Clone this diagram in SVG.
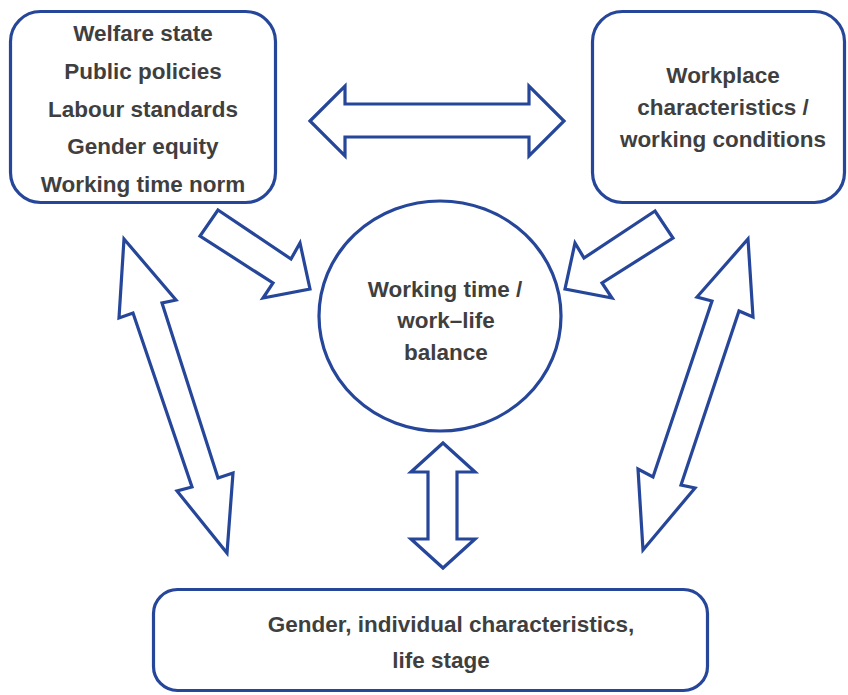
<svg xmlns="http://www.w3.org/2000/svg" width="848" height="695" viewBox="0 0 848 695">
<style>
.box{fill:#fff;stroke:#26469a;stroke-width:3.2}
.arr{fill:#fff;stroke:#26469a;stroke-width:3.2;stroke-linejoin:miter}
.t{font-family:"Liberation Sans",Arial,sans-serif;font-weight:700;font-size:22.5px;fill:#3f3f3f;text-anchor:middle}
</style>
<rect width="848" height="695" fill="#fff"/>
<g id="connectors">
<polygon class="arr" points="310,121 345,86 345,104 529,104 529,86 564,121 529,156 529,137 345,137 345,156"/>
<polygon class="arr" points="443,443 475,472 457,472 457,539 475,539 443,568 411,539 428,539 428,472 411,472"/>
<polygon class="arr" points="218,210 291,259 300,243 310,289 263,298 273,283 200,236"/>
<polygon class="arr" points="655,211 584,258 575,243 565,289 612,298 602,283 673,238"/>
<polygon class="arr" points="124,239 176,300 162,303 218,478 233,473 227,553 177,491 192,487 133,313 119,318"/>
<polygon class="arr" points="748,239 753,317 739,311 681,485 695,488 643,550 638,469 653,477 712,301 697,297"/>
</g>
<g id="policy">
<rect class="box" x="10.5" y="11.5" width="265" height="191" rx="30"/>
<text class="t" x="143" y="41">Welfare state</text>
<text class="t" x="143" y="79">Public policies</text>
<text class="t" x="143" y="117">Labour standards</text>
<text class="t" x="143" y="154">Gender equity</text>
<text class="t" x="143" y="192">Working time norm</text>
</g>
<g id="workplace">
<rect class="box" x="592.5" y="11.5" width="252" height="191" rx="30"/>
<text class="t" x="723" y="83">Workplace</text>
<text class="t" x="723" y="115">characteristics /</text>
<text class="t" x="723" y="147">working conditions</text>
</g>
<g id="balance">
<ellipse class="box" cx="440" cy="316" rx="121" ry="115"/>
<text class="t" x="445" y="297">Working time /</text>
<text class="t" x="446" y="328">work–life</text>
<text class="t" x="446" y="360">balance</text>
</g>
<g id="individual">
<rect class="box" x="153.5" y="589.5" width="554" height="101" rx="24"/>
<text class="t" x="451" y="632">Gender, individual characteristics,</text>
<text class="t" x="441" y="668">life stage</text>
</g>
</svg>
